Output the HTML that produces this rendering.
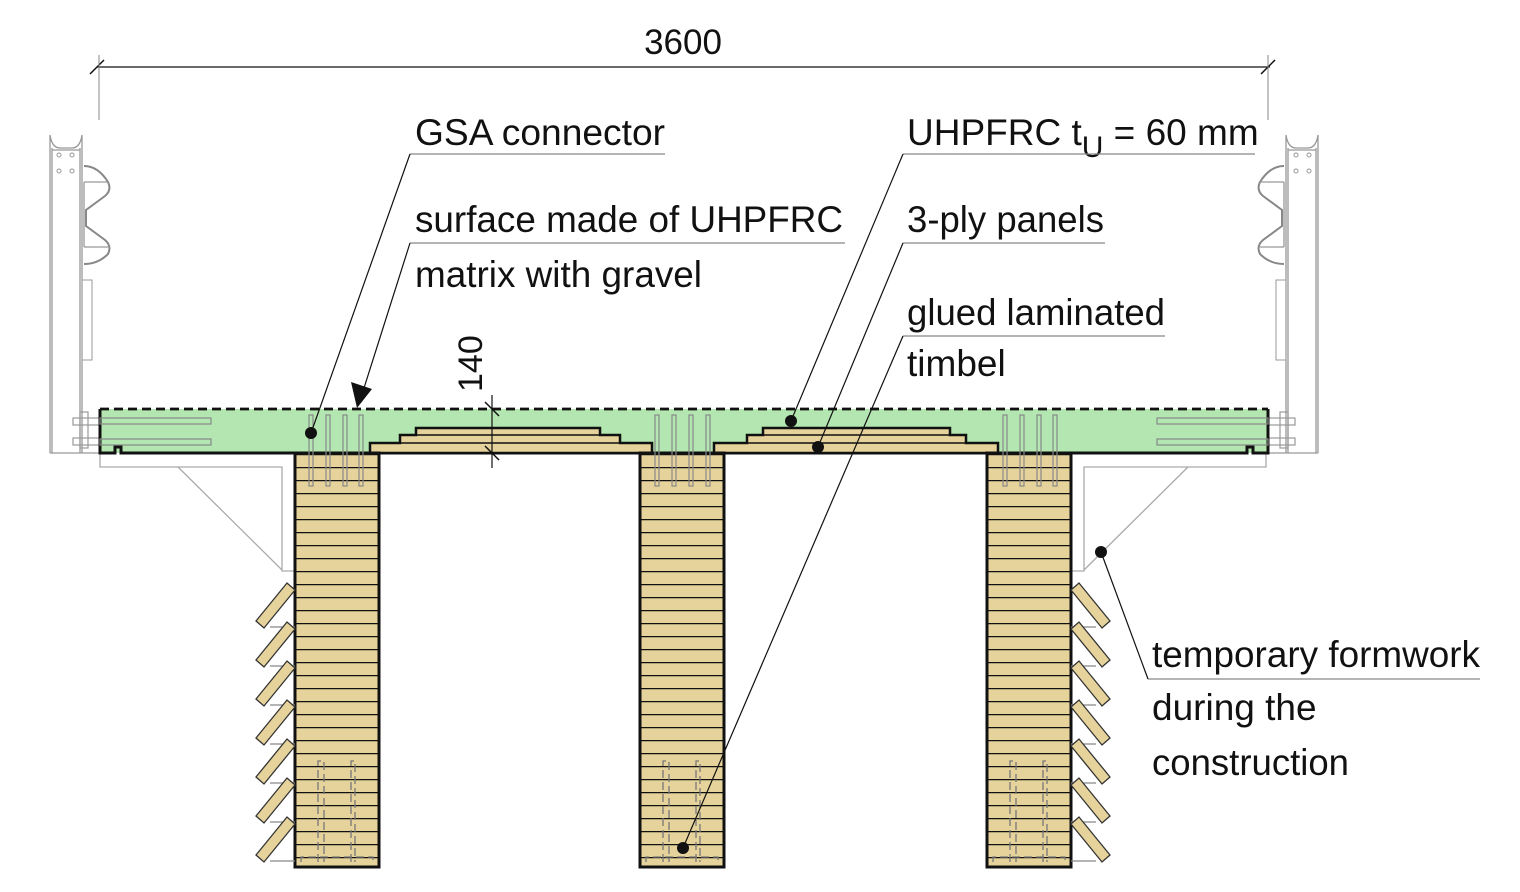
<!DOCTYPE html>
<html><head><meta charset="utf-8"><style>
html,body{margin:0;padding:0;background:#fff;}
svg{display:block;}
text{font-family:"Liberation Sans",Arial,sans-serif;fill:#111;}
</style></head><body>
<svg width="1520" height="892" viewBox="0 0 1520 892" xmlns="http://www.w3.org/2000/svg">
<defs>
<pattern id="lam" patternUnits="userSpaceOnUse" x="0" y="454" width="20" height="13">
<rect width="20" height="13" fill="#e6d39c"/><line x1="0" y1="0.5" x2="20" y2="0.5" stroke="#111" stroke-width="1.6"/>
</pattern>
<g id="brace">
<line x1="270" y1="627" x2="295" y2="627" stroke="#888" stroke-width="1.2"/>
<polygon points="256,621 287,583 295,590 264,628" fill="#e6d39c" stroke="#333" stroke-width="1.3"/>
</g>
<g id="post">
<path d="M50,135 L50,453 M52,148 L52,453 M80,148 L80,453 M82,135 L82,453 M50,135 Q52,148 60,148 L72,148 Q80,148 82,135 M52,150 L80,150 M50,453 L100,453" stroke="#999" stroke-width="1.3" fill="none"/>
<path d="M84,166 Q98,166 108,182 Q112,190 105,196 L86,210 L86,226 L105,240 Q112,246 108,254 Q98,264 84,264" stroke="#888" stroke-width="2" fill="none"/>
<path d="M84,182 L108,182 M84,247 L108,247 M84,182 L84,247" stroke="#999" stroke-width="1.3" fill="none"/>
<rect x="82" y="280" width="10" height="80" fill="none" stroke="#aaa" stroke-width="1.2"/>
<g fill="none" stroke="#999" stroke-width="1"><circle cx="59" cy="155" r="2"/><circle cx="72" cy="155" r="2"/><circle cx="59" cy="171" r="2"/><circle cx="72" cy="171" r="2"/></g>
<g fill="none" stroke="#999" stroke-width="1.2">
<rect x="73" y="418" width="38" height="7"/><rect x="73" y="438" width="38" height="7"/>
<rect x="80" y="412" width="8" height="36"/>
</g>
</g>
<g id="bracket" fill="none" stroke="#aaa" stroke-width="1.3">
<path d="M100,453 L100,467 L282,467 L282,571 L295,571 M178,467 L282,570"/>
</g>
</defs>

<line x1="97" y1="67" x2="1270" y2="67" stroke="#111" stroke-width="1.2"/>
<line x1="90" y1="74" x2="104" y2="60" stroke="#111" stroke-width="1.5"/>
<line x1="1261" y1="74" x2="1275" y2="60" stroke="#111" stroke-width="1.5"/>
<line x1="99" y1="55" x2="99" y2="120" stroke="#888" stroke-width="1"/>
<line x1="1268" y1="55" x2="1268" y2="120" stroke="#888" stroke-width="1"/>
<text x="683" y="54" font-size="35" text-anchor="middle">3600</text>

<use href="#post"/>
<use href="#post" transform="translate(1368,0) scale(-1,1)"/>
<use href="#bracket"/>
<use href="#bracket" transform="translate(1366,0) scale(-1,1)"/>

<rect x="100" y="409" width="1168" height="44" fill="#b3e6b0"/>
<line x1="100" y1="409" x2="1268" y2="409" stroke="#111" stroke-width="2.8" stroke-dasharray="9,5"/>
<path d="M100,409 L100,453 L115,453 L115,447 L121,447 L121,453 L1247,453 L1247,447 L1253,447 L1253,453 L1268,453 L1268,409" fill="none" stroke="#111" stroke-width="3"/>
<g fill="none" stroke="#888" stroke-width="1.2">
<rect x="100" y="418" width="111" height="6"/><rect x="100" y="439" width="111" height="6"/>
<rect x="1157" y="418" width="111" height="6"/><rect x="1157" y="439" width="111" height="6"/>
</g>

<g fill="#e6d39c" stroke="#111" stroke-width="2.5">
<path d="M370,453 L370,443 L400,443 L400,435 L416,435 L416,428 L600,428 L600,435 L620,435 L620,443 L652,443 L652,453 Z"/>
<path d="M714,453 L714,443 L747,443 L747,435 L763,435 L763,428 L950,428 L950,435 L966,435 L966,443 L998,443 L998,453 Z"/>
</g>
<g stroke="#111" stroke-width="1.5">
<line x1="400" y1="443" x2="620" y2="443"/><line x1="416" y1="435" x2="600" y2="435"/>
<line x1="747" y1="443" x2="966" y2="443"/><line x1="763" y1="435" x2="950" y2="435"/>
</g>

<g stroke="#111" stroke-width="3" fill="url(#lam)">
<rect x="295" y="453" width="84" height="414"/>
<rect x="640" y="453" width="84" height="414"/>
<rect x="987" y="453" width="84" height="414"/>
</g>

<g fill="none" stroke="#888" stroke-width="1.2">
<rect x="309" y="415" width="4" height="71"/><rect x="326" y="415" width="4" height="71"/><rect x="343" y="415" width="4" height="71"/><rect x="359" y="415" width="4" height="71"/>
<rect x="655" y="415" width="4" height="71"/><rect x="672" y="415" width="4" height="71"/><rect x="689" y="415" width="4" height="71"/><rect x="706" y="415" width="4" height="71"/>
<rect x="1003" y="415" width="4" height="71"/><rect x="1020" y="415" width="4" height="71"/><rect x="1037" y="415" width="4" height="71"/><rect x="1053" y="415" width="4" height="71"/>
</g>
<g fill="none" stroke="#777" stroke-width="1.3" stroke-dasharray="8,4">
<path d="M318,862 L318,761 L324,761 L324,862 M351,862 L351,761 L355,761 L355,862 M301,862 L301,857 L373,857 L373,862"/>
<path d="M663,862 L663,761 L669,761 L669,862 M696,862 L696,761 L700,761 L700,862 M646,862 L646,857 L718,857 L718,862"/>
<path d="M1010,862 L1010,761 L1016,761 L1016,862 M1043,862 L1043,761 L1047,761 L1047,862 M993,862 L993,857 L1065,857 L1065,862"/>
</g>

<g>
<use href="#brace"/><use href="#brace" y="39"/><use href="#brace" y="78"/><use href="#brace" y="117"/><use href="#brace" y="156"/><use href="#brace" y="195"/><use href="#brace" y="234"/>
</g>
<g transform="translate(1366,0) scale(-1,1)">
<use href="#brace"/><use href="#brace" y="39"/><use href="#brace" y="78"/><use href="#brace" y="117"/><use href="#brace" y="156"/><use href="#brace" y="195"/><use href="#brace" y="234"/>
</g>

<line x1="492" y1="395" x2="492" y2="468" stroke="#111" stroke-width="1.2"/>
<line x1="485" y1="402" x2="499" y2="416" stroke="#111" stroke-width="1.5"/>
<line x1="485" y1="446" x2="499" y2="460" stroke="#111" stroke-width="1.5"/>
<text transform="translate(482,392) rotate(-90)" font-size="34">140</text>

<g font-size="37">
<text x="415" y="145" textLength="250" lengthAdjust="spacingAndGlyphs">GSA connector</text>
<text x="415" y="232" textLength="428" lengthAdjust="spacingAndGlyphs">surface made of UHPFRC</text>
<text x="415" y="287" textLength="287" lengthAdjust="spacingAndGlyphs">matrix with gravel</text>
<text x="907" y="145">UHPFRC t<tspan font-size="30" dy="12">U</tspan><tspan dy="-12"> = 60 mm</tspan></text>
<text x="907" y="232" textLength="197" lengthAdjust="spacingAndGlyphs">3-ply panels</text>
<text x="907" y="325" textLength="258" lengthAdjust="spacingAndGlyphs">glued laminated</text>
<text x="907" y="376">timbel</text>
<text x="1152" y="667" textLength="328" lengthAdjust="spacingAndGlyphs">temporary formwork</text>
<text x="1152" y="720">during the</text>
<text x="1152" y="775" textLength="197" lengthAdjust="spacingAndGlyphs">construction</text>
</g>
<g stroke="#888" stroke-width="1.2">
<line x1="410" y1="154" x2="665" y2="154"/>
<line x1="410" y1="243" x2="845" y2="243"/>
<line x1="903" y1="154" x2="1255" y2="154"/>
<line x1="903" y1="243" x2="1105" y2="243"/>
<line x1="903" y1="336" x2="1165" y2="336"/>
<line x1="1148" y1="679" x2="1480" y2="679"/>
</g>
<g stroke="#111" stroke-width="1.2">
<line x1="410" y1="154" x2="311" y2="433"/>
<line x1="410" y1="243" x2="364" y2="388"/>
<line x1="903" y1="154" x2="791" y2="421"/>
<line x1="903" y1="243" x2="818" y2="447"/>
<line x1="903" y1="336" x2="683" y2="848"/>
<line x1="1148" y1="679" x2="1101" y2="552"/>
</g>
<polygon points="357,408 351,382 372,389" fill="#111"/>
<g fill="#111">
<circle cx="311" cy="433" r="6"/><circle cx="791" cy="421" r="6"/><circle cx="818" cy="447" r="6"/>
<circle cx="683" cy="848" r="6"/><circle cx="1101" cy="552" r="6"/>
</g>
</svg>
</body></html>
